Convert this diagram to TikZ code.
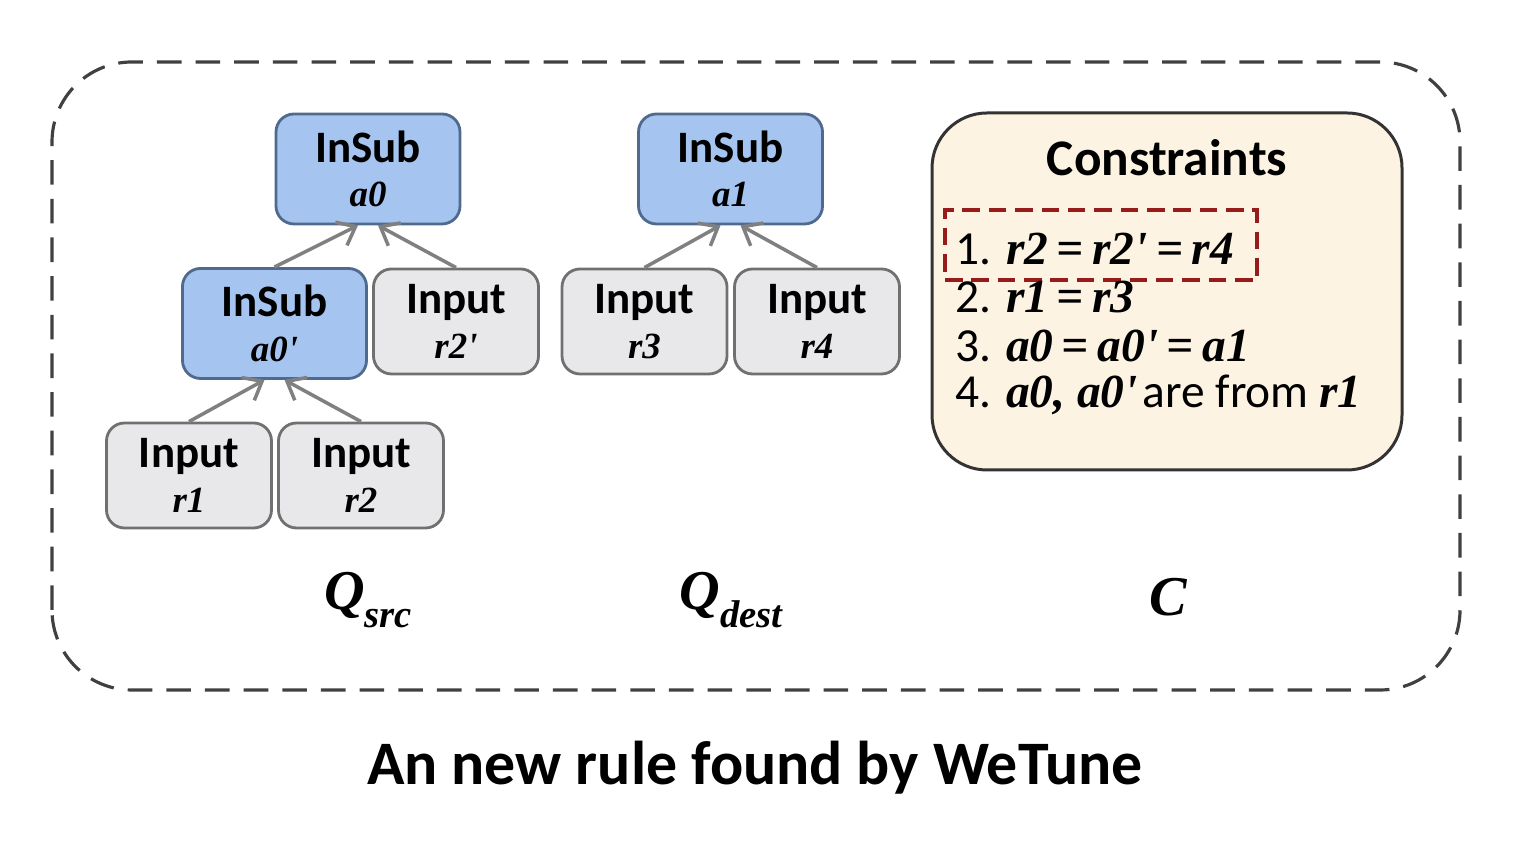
\documentclass[tikz,border=0pt]{standalone}
\usepackage{fontspec}
\setmainfont{Carlito}
\newfontfamily\serifvar{Liberation Serif}
\usepackage{xcolor}
\usepackage{tikz}
\usetikzlibrary{positioning, arrows.meta}

\definecolor{opblue}{RGB}{166,196,240}
\definecolor{opline}{RGB}{80,106,142}
\definecolor{ingray}{RGB}{232,232,235}
\definecolor{inline}{RGB}{112,112,112}
\definecolor{edgegray}{RGB}{128,128,128}
\definecolor{consfill}{RGB}{253,243,226}
\definecolor{hired}{RGB}{150,28,28}

\newcommand{\bivar}[1]{{\serifvar\bfseries\itshape #1}}
\newcommand{\nodevar}[1]{{\fontsize{10.5}{12}\selectfont\bivar{#1}}}
\newcommand{\eqs}{\hspace{0.18em}=\hspace{0.18em}}

\begin{document}
\begin{tikzpicture}[
        >={Straight Barb[length=1.6mm, width=2.6mm]},
        opbox/.style={draw=opline, fill=opblue, line width=0.8pt, rounded corners=1.8mm,
            minimum width=1.84cm, minimum height=1.10cm, align=center,
            font=\fontsize{12.8}{12.6}\selectfont\bfseries},
        inbox/.style={draw=inline, fill=ingray, line width=0.8pt, rounded corners=1.8mm,
            minimum width=1.65cm, minimum height=1.05cm, align=center,
            font=\fontsize{12.8}{12.6}\selectfont\bfseries},
        edge/.style={->, draw=edgegray, line width=1pt},
        constext/.style={anchor=base west, inner sep=0pt, font=\fontsize{13.5}{16}\selectfont}
    ]
        \useasboundingbox (0,0) rectangle (15.34,8.41);

        % outer frame
        \draw[draw=black!75, line width=0.9pt, dash pattern=on 7pt off 4pt, rounded corners=8mm]
            (0.52,1.51) rectangle (14.60,7.79);

        % Q_src
        \node[opbox] (a0)  at (3.68, 6.72)  {InSub\\\nodevar{a0}};
        \node[opbox] (a0p) at (2.745, 5.175) {InSub\\\nodevar{a0'}};
        \foreach \nm/\x/\y/\lab in {r2p/4.56/5.195/r2', r1/1.89/3.655/r1, r2/3.61/3.655/r2}
            \node[inbox] (\nm) at (\x,\y) {Input\\\nodevar{\lab}};

        \draw[edge] (a0p.north) -- ([xshift=-1mm]a0.south);
        \draw[edge] (r2p.north) -- ([xshift=1mm]a0.south);
        \draw[edge] (r1.north) -- ([xshift=-1mm]a0p.south);
        \draw[edge] (r2.north) -- ([xshift=1mm]a0p.south);

        % Q_dest
        \node[opbox] (a1) at (7.305, 6.72) {InSub\\\nodevar{a1}};
        \node[inbox] (r3) at (6.445, 5.195) {Input\\\nodevar{r3}};
        \node[inbox] (r4) at (8.17, 5.195) {Input\\\nodevar{r4}};

        \draw[edge] (r3.north) -- ([xshift=-1mm]a1.south);
        \draw[edge] (r4.north) -- ([xshift=1mm]a1.south);

        % constraints
        \node[draw=black!80, fill=consfill, line width=0.85pt, rounded corners=5.5mm,
              minimum width=4.70cm, minimum height=3.57cm] (cons) at (11.67, 5.495) {};
        \node[font=\fontsize{14.6}{16}\selectfont\bfseries] (ctitle) at (11.67, 6.83) {Constraints};
        \node[draw=hired, line width=0.9pt, dash pattern=on 5pt off 2.5pt,
              minimum width=3.12cm, minimum height=0.70cm] (hl) at (11.01, 5.96) {};
        \node[constext] (c1) at (9.55, 5.76) {1. \bivar{r2\eqs r2'\eqs r4}};
        \node[constext] (c2) at (9.55, 5.28) {2. \bivar{r1\eqs r3}};
        \node[constext] (c3) at (9.55, 4.79) {3. \bivar{a0\eqs a0'\eqs a1}};
        \node[constext] (c4) at (9.55, 4.33) {4. \bivar{a0, a0'}\hspace{0.1em}are from \bivar{r1}};

        % part labels
        \node[font=\fontsize{16}{18}\selectfont] (qsrc)  at (3.68, 2.41)  {\bivar{Q}\raisebox{-0.7ex}{\fontsize{11}{12}\selectfont\bivar{src}}};
        \node[font=\fontsize{16}{18}\selectfont] (qdest) at (7.31, 2.41)  {\bivar{Q}\raisebox{-0.7ex}{\fontsize{11}{12}\selectfont\bivar{dest}}};
        \node[font=\fontsize{16}{18}\selectfont] (cset)  at (11.68, 2.44) {\bivar{C}};

        \node[font=\fontsize{17.6}{19}\selectfont\bfseries] (title) at (7.55, 0.73) {An new rule found by WeTune};
    \end{tikzpicture}
\end{document}
